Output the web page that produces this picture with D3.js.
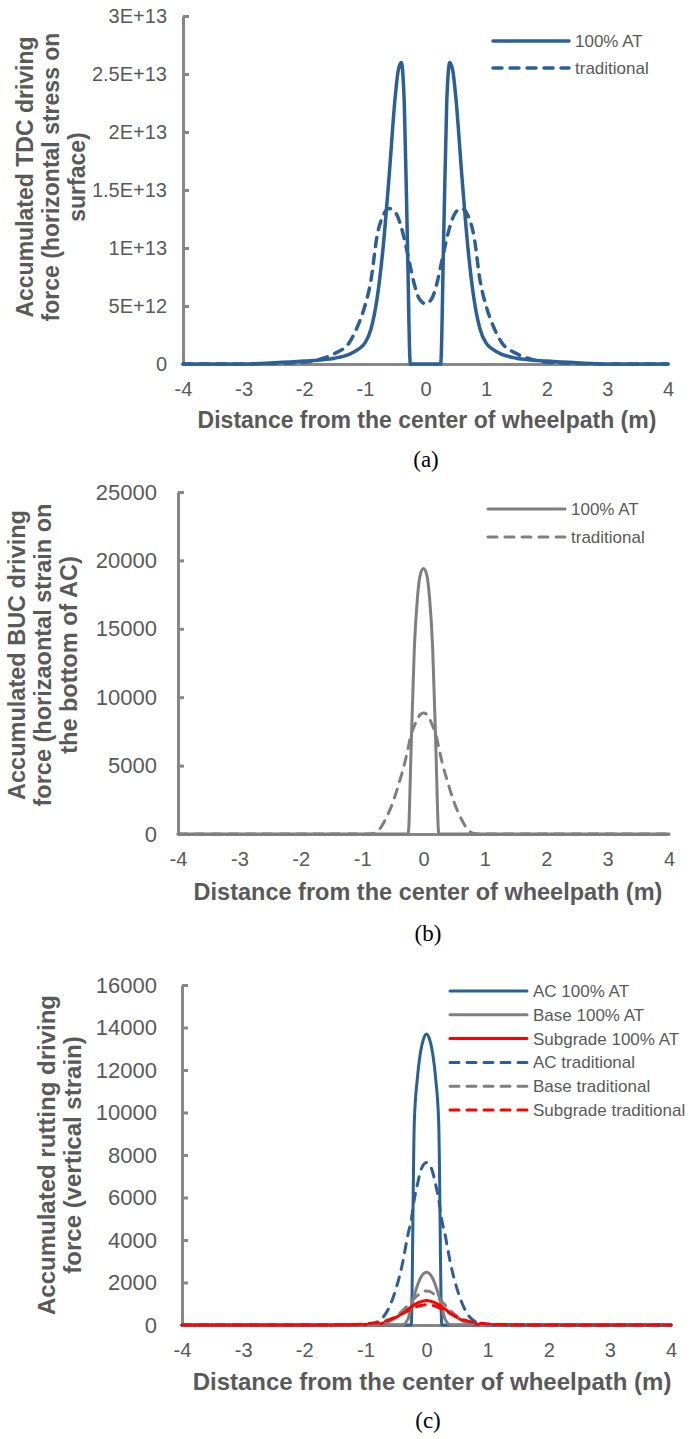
<!DOCTYPE html>
<html><head><meta charset="utf-8">
<script src="https://cdn.jsdelivr.net/npm/d3@7"></script>
<style>body{margin:0;background:#fff}svg{display:block}</style>
</head><body><svg id="chart" width="694" height="1439"></svg>
<script>
// ---------- shared x ----------
const xTicks = [-4,-3,-2,-1,0,1,2,3,4];
const xTickLabels = ["-4","-3","-2","-1","0","1","2","3","4"];

// ---------- panel (a) ----------
const xA = [-4,-3.5,-3,-2.5,-2,-1.75,-1.5,-1.25,-1.1,-1,-0.9,-0.8,-0.7,-0.6,-0.5,-0.45,-0.4,-0.35,-0.3,-0.25,-0.2,-0.1,0,0.1,0.2,0.25,0.3,0.35,0.4,0.45,0.5,0.6,0.7,0.8,0.9,1,1.1,1.25,1.5,1.75,2,2.5,3,3.5,4];
const tdcAT = [0,0,0,0.1e12,0.25e12,0.35e12,0.5e12,0.85e12,1.3e12,1.8e12,3.0e12,5.6e12,10e12,16.2e12,23e12,25.3e12,26e12,22.5e12,11e12,0,0,0,0,0,0,0,11e12,22.5e12,26e12,25.3e12,23e12,16.2e12,10e12,5.6e12,3.0e12,1.8e12,1.3e12,0.85e12,0.5e12,0.35e12,0.25e12,0.1e12,0,0,0];
const tdcTrad = [0,0,0,0.05e12,0.15e12,0.4e12,0.9e12,1.9e12,3.5e12,5.0e12,7.2e12,11.0e12,12.8e12,13.4e12,13.1e12,12.6e12,11.8e12,10.8e12,9.6e12,8.4e12,7.2e12,5.6e12,5.2e12,5.6e12,7.2e12,8.4e12,9.6e12,10.8e12,11.8e12,12.6e12,13.1e12,13.4e12,12.8e12,11.0e12,7.2e12,5.0e12,3.5e12,1.9e12,0.9e12,0.4e12,0.15e12,0.05e12,0,0,0];
const yTicksA = [0,5e12,1e13,1.5e13,2e13,2.5e13,3e13];
const yTickLabelsA = ["0","5E+12","1E+13","1.5E+13","2E+13","2.5E+13","3E+13"];
const legendA = ["100% AT","traditional"];

// ---------- panel (b) ----------
const xB = [-4,-3,-2,-1.5,-1,-0.9,-0.8,-0.7,-0.6,-0.5,-0.4,-0.3,-0.25,-0.2,-0.15,-0.1,-0.05,0,0.05,0.1,0.15,0.2,0.25,0.3,0.4,0.5,0.6,0.7,0.8,0.9,1,1.5,2,3,4];
const bucAT = [0,0,0,0,0,0,0,0,0,0,0,0,0,6500,13500,17200,19000,19400,19000,17200,13500,6500,0,0,0,0,0,0,0,0,0,0,0,0,0];
const bucTrad = [0,0,0,0,0,0,60,450,1250,2300,3700,5300,6300,7300,7900,8400,8750,8850,8750,8400,7900,7300,6300,5300,3700,2300,1250,450,60,0,0,0,0,0,0];
const yTicksB = [0,5000,10000,15000,20000,25000];
const yTickLabelsB = ["0","5000","10000","15000","20000","25000"];
const legendB = ["100% AT","traditional"];

// ---------- panel (c) ----------
const xC = [-4,-3,-2,-1.5,-1.25,-1,-0.9,-0.8,-0.7,-0.6,-0.5,-0.4,-0.3,-0.25,-0.2,-0.15,-0.1,-0.05,0,0.05,0.1,0.15,0.2,0.25,0.3,0.4,0.5,0.6,0.7,0.8,0.9,1,1.25,1.5,2,3,4];
const acAT =    [0,0,0,0,0,0,0,0,0,0,0,0,0,0,9500,11600,12800,13450,13700,13450,12800,11600,9500,0,0,0,0,0,0,0,0,0,0,0,0,0,0];
const baseAT =  [0,0,0,0,0,0,0,0,0,0,0,0,300,900,1400,1850,2200,2420,2480,2420,2200,1850,1400,900,300,0,0,0,0,0,0,0,0,0,0,0,0];
const subAT =   [0,0,0,5,10,20,30,40,100,200,350,550,750,850,950,1030,1090,1130,1150,1130,1090,1030,950,850,750,550,350,200,100,40,30,20,10,5,0,0,0];
const acTrad =  [0,0,0,0,0,0,40,150,400,900,1700,2800,4300,4940,5900,6600,7200,7550,7650,7550,7200,6600,5900,4940,4300,2800,1700,900,400,150,40,0,0,0,0,0,0];
const baseTrad =[0,0,0,0,0,0,0,20,80,200,400,650,950,1100,1250,1380,1500,1580,1600,1580,1500,1380,1250,1100,950,650,400,200,80,20,0,0,0,0,0,0,0];
const subTrad = [0,0,0,8,20,50,80,110,170,260,380,520,680,750,820,880,920,945,950,945,920,880,820,750,680,520,380,260,170,110,80,50,20,8,0,0,0];
const yTicksC = [0,2000,4000,6000,8000,10000,12000,14000,16000];
const yTickLabelsC = ["0","2000","4000","6000","8000","10000","12000","14000","16000"];
const legendC = ["AC 100% AT","Base 100% AT","Subgrade 100% AT","AC traditional","Base traditional","Subgrade traditional"];

const xTitle = "Distance from the center of wheelpath (m)";
const yTitleA = ["Accumulated TDC driving","force (horizontal stress on","surface)"];
const yTitleB = ["Accumulated BUC driving","force (horizaontal strain on","the bottom of AC)"];
const yTitleC = ["Accumulated rutting driving","force (vertical strain)"];

// ---------- styles ----------
const BLUE = "#2a6099", GRAY = "#7f7f7f", RED = "#ff0000", AXIS = "#878787", TXT = "#595959";
const SANS = '"Liberation Sans",Arial,sans-serif', SERIF = '"Liberation Serif","Times New Roman",serif';
const svg = d3.select("#chart");

function panel(cfg) {
  const g = svg.append("g").style("font-family", SANS);
  const x = d3.scaleLinear().domain([-4,4]).range([cfg.left, cfg.right]);
  const y = d3.scaleLinear().domain([0, cfg.ymax]).range([cfg.bottom, cfg.top]);

  const xa = g.append("g").attr("transform", `translate(0,${cfg.bottom})`)
    .call(d3.axisBottom(x).tickValues(xTicks).tickSize(0).tickSizeOuter(0)
      .tickPadding(cfg.xPad).tickFormat((d,i)=>xTickLabels[i]));
  xa.select(".domain").attr("stroke", AXIS).attr("stroke-width", 3);
  xa.selectAll("text").attr("fill", TXT).attr("font-size", cfg.xFont).style("font-family", SANS);

  const ya = g.append("g").attr("transform", `translate(${cfg.left},0)`)
    .call(d3.axisLeft(y).tickValues(cfg.yTicks).tickSize(-6).tickSizeOuter(0)
      .tickPadding(cfg.yPad).tickFormat((d,i)=>cfg.yLabels[i]));
  ya.select(".domain").attr("stroke", AXIS).attr("stroke-width", 3);
  ya.selectAll(".tick line").attr("stroke", AXIS).attr("stroke-width", 3);
  ya.selectAll("text").attr("fill", TXT).attr("font-size", cfg.yFont).style("font-family", SANS);

  const line = d3.line().curve(d3.curveMonotoneX);
  cfg.series.forEach(s => {
    g.append("path")
      .attr("d", line(s.xs.map((v,i)=>[x(v), y(s.ys[i])])))
      .attr("fill","none").attr("stroke", s.color).attr("stroke-width", cfg.lw)
      .attr("stroke-dasharray", s.dash ? cfg.dash : null)
      .attr("stroke-linecap", "round").attr("stroke-linejoin","round");
  });

  cfg.series.forEach((s,i) => {
    const ly = cfg.legY + i*cfg.legDy;
    g.append("line").attr("x1", cfg.legX).attr("x2", cfg.legX + cfg.legLen)
      .attr("y1", ly).attr("y2", ly).attr("stroke", s.color).attr("stroke-width", cfg.lw)
      .attr("stroke-dasharray", s.dash ? cfg.dash : null).attr("stroke-linecap","round");
    g.append("text").attr("x", cfg.legX + cfg.legLen + 6).attr("y", ly)
      .attr("dy","0.35em").attr("font-size", cfg.legFont).attr("fill", TXT).text(s.name);
  });

  g.append("text").attr("x", cfg.xTitleX).attr("y", cfg.xTitleY).attr("dy","0.35em")
    .attr("text-anchor","middle").attr("font-weight","bold").attr("font-size", cfg.titleFont)
    .attr("fill", TXT).text(xTitle);

  const yt = g.append("text").attr("transform", `translate(${cfg.yTitleX},${cfg.yTitleY}) rotate(-90)`)
    .attr("text-anchor","middle").attr("font-weight","bold").attr("font-size", cfg.titleFont).attr("fill", TXT);
  cfg.yTitle.forEach((t,i)=>{
    yt.append("tspan").attr("x",0).attr("y", i*cfg.yTitleDy).text(t);
  });

  g.append("text").attr("x", cfg.labX).attr("y", cfg.labY).attr("dy","0.35em")
    .attr("text-anchor","middle").style("font-family", SERIF)
    .attr("font-size", 23).attr("fill","#000").text(cfg.label);
}

panel({
  left:183, right:668, top:16, bottom:364, ymax:3e13,
  yTicks:yTicksA, yLabels:yTickLabelsA, yFont:20, yPad:16, xFont:20, xPad:18,
  lw:3.5, dash:"9,8",
  series:[
    {name:legendA[0], xs:xA, ys:tdcAT, color:BLUE, dash:false},
    {name:legendA[1], xs:xA, ys:tdcTrad, color:BLUE, dash:true}],
  legX:493, legY:41, legDy:27, legLen:76, legFont:17,
  xTitleX:427, xTitleY:420, titleFont:23,
  yTitle:yTitleA, yTitleX:33, yTitleY:177, yTitleDy:26,
  label:"(a)", labX:426, labY:459
});

panel({
  left:178, right:669, top:492, bottom:834, ymax:25000,
  yTicks:yTicksB, yLabels:yTickLabelsB, yFont:22, yPad:21, xFont:20, xPad:18,
  lw:3, dash:"9,8",
  series:[
    {name:legendB[0], xs:xB, ys:bucAT, color:GRAY, dash:false},
    {name:legendB[1], xs:xB, ys:bucTrad, color:GRAY, dash:true}],
  legX:488, legY:509, legDy:28, legLen:77, legFont:17,
  xTitleX:428, xTitleY:892, titleFont:23.5,
  yTitle:yTitleB, yTitleX:25, yTitleY:655, yTitleDy:26,
  label:"(b)", labX:428, labY:933
});

panel({
  left:182, right:671, top:985, bottom:1325, ymax:16000,
  yTicks:yTicksC, yLabels:yTickLabelsC, yFont:22, yPad:25, xFont:20, xPad:18,
  lw:3, dash:"9,8",
  series:[
    {name:legendC[0], xs:xC, ys:acAT, color:BLUE, dash:false},
    {name:legendC[1], xs:xC, ys:baseAT, color:GRAY, dash:false},
    {name:legendC[2], xs:xC, ys:subAT, color:RED, dash:false},
    {name:legendC[3], xs:xC, ys:acTrad, color:BLUE, dash:true},
    {name:legendC[4], xs:xC, ys:baseTrad, color:GRAY, dash:true},
    {name:legendC[5], xs:xC, ys:subTrad, color:RED, dash:true}],
  legX:450, legY:991, legDy:23.8, legLen:77, legFont:17,
  xTitleX:432, xTitleY:1382, titleFont:24,
  yTitle:yTitleC, yTitleX:55, yTitleY:1155, yTitleDy:26,
  label:"(c)", labX:428, labY:1420
});
</script></body></html>
